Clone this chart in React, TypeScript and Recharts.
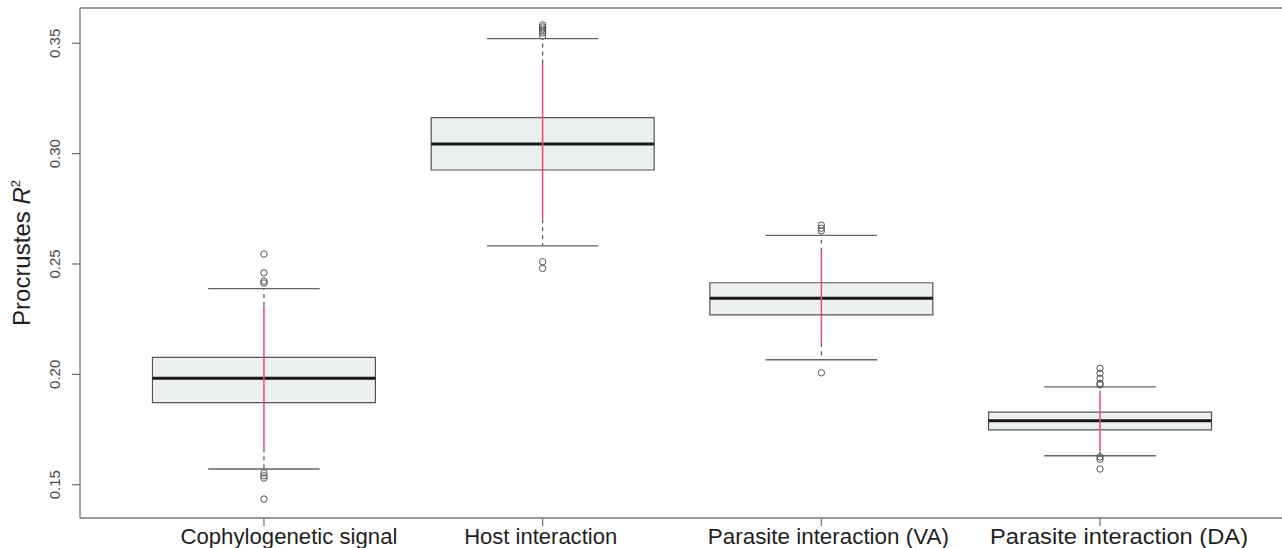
import React from "react";
import {
  ComposedChart,
  XAxis,
  YAxis,
  Scatter,
  ReferenceArea,
  ReferenceLine,
} from "recharts";

const categories = [
  "Cophylogenetic signal",
  "Host interaction",
  "Parasite interaction (VA)",
  "Parasite interaction (DA)",
];
const positions = [1, 2, 3, 4];
const q1 = [0.1872, 0.2926, 0.2269, 0.1748];
const median = [0.1982, 0.3044, 0.2345, 0.179];
const q3 = [0.2077, 0.3163, 0.2415, 0.1829];
const whiskerLow = [0.1571, 0.2582, 0.2066, 0.1631];
const whiskerHigh = [0.2388, 0.3521, 0.263, 0.1943];
const ciLow = [0.1665, 0.2703, 0.2141, 0.165];
const ciHigh = [0.231, 0.3409, 0.2556, 0.1907];
const outliersCoph = [0.2545, 0.246, 0.2423, 0.2414, 0.1553, 0.154, 0.153, 0.1435];
const outliersHost = [0.3583, 0.3574, 0.3565, 0.3556, 0.3547, 0.3533, 0.251, 0.248];
const outliersVA = [0.2676, 0.2662, 0.265, 0.2007];
const outliersDA = [0.2027, 0.2005, 0.1982, 0.1959, 0.1952, 0.1626, 0.1615, 0.1571];
const yTicks = [0.15, 0.2, 0.25, 0.3, 0.35];
const yDomain: [number, number] = [0.1349, 0.366];
const xDomain: [number, number] = [0.34, 4.66];

const outlierSets = [outliersCoph, outliersHost, outliersVA, outliersDA];
const outlierData = outlierSets.flatMap((set, i) =>
  set.map((v) => ({ x: positions[i], y: v }))
);

const FONT = "'Liberation Sans', Arial, Helvetica, sans-serif";
const BOX_HALF = 0.4;
const CAP_HALF = 0.2;
const LABEL_SHIFT = [25, -2, 7, 19];
const LABEL_LEN = [217, 153, 241, 258];

const YTick = (props: any) => {
  const { y, payload } = props;
  const bx = 60;
  return (
    <text
      x={bx}
      y={y}
      transform={`rotate(-90, ${bx}, ${y})`}
      textAnchor="middle"
      fontSize={15}
      fontFamily={FONT}
      fill="#4a4a4a"
    >
      {Number(payload.value).toFixed(2)}
    </text>
  );
};

const XTick = (props: any) => {
  const { x, y, payload } = props;
  const idx = positions.indexOf(payload.value);
  if (idx < 0) return null;
  return (
    <text
      x={x + LABEL_SHIFT[idx]}
      y={y}
      dy={16}
      textAnchor="middle"
      fontSize={22.5}
      fontFamily={FONT}
      fill="#1f1f1f"
      textLength={LABEL_LEN[idx]}
      lengthAdjust="spacingAndGlyphs"
    >
      {categories[idx]}
    </text>
  );
};

const YLabel = (props: any) => {
  const vb = props.viewBox || { x: 0, y: 8, width: 80, height: 510 };
  const cy = vb.y + vb.height / 2 - 10;
  const bx = 30;
  return (
    <text
      x={bx}
      y={cy}
      transform={`rotate(-90, ${bx}, ${cy})`}
      textAnchor="middle"
      fontSize={24}
      fontFamily={FONT}
      fill="#1f1f1f"
    >
      Procrustes <tspan fontStyle="italic">R</tspan>
      <tspan fontSize={13} dy={-10}>
        2
      </tspan>
    </text>
  );
};

const OutlierShape = (props: any) => {
  const { cx, cy } = props;
  return <circle cx={cx} cy={cy} r={3.2} fill="none" stroke="#555" strokeWidth={1} />;
};

export default function App() {
  return (
    <div
      style={{
        position: "absolute",
        left: 0,
        top: 0,
        width: 1282,
        height: 548,
        overflow: "hidden",
        background: "#fff",
      }}
    >
      <ComposedChart
        width={1282}
        height={548}
        margin={{ top: 8, right: -2, bottom: 0, left: 0 }}
      >
        <XAxis
          type="number"
          dataKey="x"
          domain={xDomain}
          ticks={positions}
          interval={0}
          allowDataOverflow
          height={30}
          tickSize={8}
          tickMargin={2}
          axisLine={{ stroke: "#777", strokeWidth: 1.3 }}
          tickLine={{ stroke: "#777", strokeWidth: 1.3 }}
          tick={<XTick />}
        />
        <YAxis
          type="number"
          domain={yDomain}
          ticks={yTicks}
          allowDataOverflow
          width={80}
          tickSize={8}
          axisLine={{ stroke: "#777", strokeWidth: 1.3 }}
          tickLine={{ stroke: "#777", strokeWidth: 1.3 }}
          tick={<YTick />}
          label={{ content: <YLabel /> }}
        />
        <ReferenceLine y={yDomain[1]} stroke="#777" strokeWidth={1.3} />

        {positions.map((p, i) => (
          <ReferenceLine
            key={`wh-${i}`}
            segment={[
              { x: p, y: ciHigh[i] },
              { x: p, y: whiskerHigh[i] },
            ]}
            stroke="#555"
            strokeWidth={1.2}
            strokeDasharray="4 4"
          />
        ))}
        {positions.map((p, i) => (
          <ReferenceLine
            key={`wl-${i}`}
            segment={[
              { x: p, y: ciLow[i] },
              { x: p, y: whiskerLow[i] },
            ]}
            stroke="#555"
            strokeWidth={1.2}
            strokeDasharray="4 4"
          />
        ))}
        {positions.map((p, i) => (
          <ReferenceLine
            key={`ch-${i}`}
            segment={[
              { x: p - CAP_HALF, y: whiskerHigh[i] },
              { x: p + CAP_HALF, y: whiskerHigh[i] },
            ]}
            stroke="#666"
            strokeWidth={1.3}
          />
        ))}
        {positions.map((p, i) => (
          <ReferenceLine
            key={`cl-${i}`}
            segment={[
              { x: p - CAP_HALF, y: whiskerLow[i] },
              { x: p + CAP_HALF, y: whiskerLow[i] },
            ]}
            stroke="#666"
            strokeWidth={1.3}
          />
        ))}
        {positions.map((p, i) => (
          <ReferenceArea
            key={`box-${i}`}
            x1={p - BOX_HALF}
            x2={p + BOX_HALF}
            y1={q1[i]}
            y2={q3[i]}
            fill="#edf0f1"
            fillOpacity={1}
            stroke="#555"
            strokeWidth={1.2}
          />
        ))}
        {positions.map((p, i) => (
          <ReferenceLine
            key={`med-${i}`}
            segment={[
              { x: p - BOX_HALF, y: median[i] },
              { x: p + BOX_HALF, y: median[i] },
            ]}
            stroke="#1a1a1a"
            strokeWidth={3}
          />
        ))}
        {positions.map((p, i) => (
          <ReferenceLine
            key={`ci-${i}`}
            segment={[
              { x: p, y: ciLow[i] },
              { x: p, y: ciHigh[i] },
            ]}
            stroke="#ee4d6d"
            strokeWidth={1.5}
          />
        ))}
        <Scatter
          data={outlierData}
          dataKey="y"
          isAnimationActive={false}
          shape={<OutlierShape />}
        />
      </ComposedChart>
    </div>
  );
}
